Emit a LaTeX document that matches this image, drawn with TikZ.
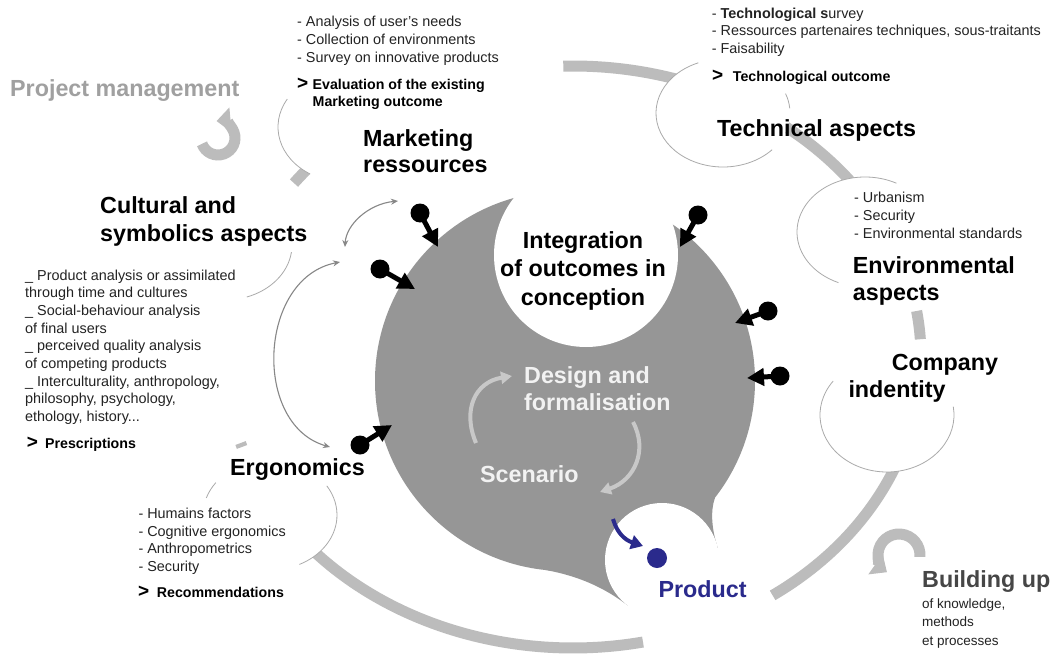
\documentclass[tikz,border=0pt]{standalone}
\usepackage{fontspec}
\setmainfont{Liberation Sans}
\usetikzlibrary{arrows.meta}
\definecolor{blob}{RGB}{150,150,150}
\definecolor{ringc}{RGB}{188,188,188}
\definecolor{thinc}{RGB}{170,170,170}
\definecolor{dblc}{RGB}{135,135,135}
\definecolor{innerc}{RGB}{200,200,200}
\definecolor{innertxt}{RGB}{242,242,242}
\definecolor{prodc}{RGB}{42,42,140}
\definecolor{pmc}{RGB}{160,160,160}
\definecolor{buc}{RGB}{70,70,70}
\definecolor{smalltxt}{RGB}{35,35,35}
\begin{document}
\begin{tikzpicture}[x=1pt,y=1pt,
  head/.style={font=\fontsize{23.3}{28.3}\selectfont\bfseries, inner sep=0pt, align=left, anchor=base west},
  small/.style={font=\fontsize{14.4}{17.8}\selectfont, inner sep=0pt, align=left, anchor=base west, text=smalltxt},
  smallb/.style={font=\fontsize{14.2}{17.4}\selectfont\bfseries, inner sep=0pt, align=left, anchor=base west},
  gtsign/.style={font=\fontsize{19}{19}\selectfont\bfseries, inner sep=0pt, anchor=base west},
  ringseg/.style={draw=ringc, line width=11pt},
  cutter/.style={fill=white},
  outline/.style={draw=thinc, line width=0.8pt},
  pinball/.style={circle, fill=black, inner sep=0pt, minimum size=19pt},
  pinarrow/.style={line width=5pt, -{Triangle[length=17pt,width=17pt]}},
  dblarrow/.style={draw=dblc, line width=1.1pt, {Stealth[length=7pt,width=6pt]}-{Stealth[length=7pt,width=6pt]}},
  innerarrow/.style={draw=innerc, line width=4pt, -{Triangle[length=11pt,width=12pt]}},
  bigturn/.style={draw=ringc, line width=11pt, -{Triangle[length=14pt,width=24pt]}},
  prodarrow/.style={draw=prodc, line width=4pt, -{Triangle[length=12pt,width=14pt]}},
  proddot/.style={circle, fill=prodc, inner sep=0pt, minimum size=20pt}
]
\fill[white] (0,0) rectangle (1053,-656);
\useasboundingbox (0,0) rectangle (1053,-656);

% ---- outer ring segments
\coordinate (rc) at (573,-357);
\draw[ringseg] (rc) ++(91.6:348pt and 291pt) arc[start angle=91.6,end angle=30,x radius=348pt,y radius=291pt];
\draw[ringseg] (rc) ++(9.1:348pt and 291pt) arc[start angle=9.1,end angle=3.5,x radius=348pt,y radius=291pt];
\draw[ringseg] (rc) ++(-10:348pt and 291pt) arc[start angle=-10,end angle=-55,x radius=348pt,y radius=291pt];
\draw[ringseg] (rc) ++(-140:348pt and 291pt) arc[start angle=-140,end angle=-78.4,x radius=348pt,y radius=291pt];
\draw[ringseg] (rc) ++(197.2:348pt and 291pt) arc[start angle=197.2,end angle=198,x radius=348pt,y radius=291pt];
\draw[ringseg] (rc) ++(137:348pt and 291pt) arc[start angle=137,end angle=143.3,x radius=348pt,y radius=291pt];

% ---- white ellipses of the aspects
\fill[cutter] (345,-127) ellipse[x radius=67pt,y radius=55pt];
\fill[cutter] (723,-113) ellipse[x radius=67pt,y radius=54pt];
\fill[cutter] (865,-232) ellipse[x radius=68pt,y radius=55pt];
\fill[cutter] (887,-415) ellipse[x radius=67pt,y radius=57pt];
\fill[cutter] (270,-515) ellipse[x radius=67pt,y radius=55pt];

% ---- visible outline arcs
\draw[outline] (345,-127) ++(149.5:67pt and 55pt) arc[start angle=149.5,end angle=238.6,x radius=67pt,y radius=55pt];
\draw[outline] (723,-113) ++(111.6:67pt and 54pt) arc[start angle=111.6,end angle=317.1,x radius=67pt,y radius=54pt];
\draw[outline] (723,-113) ++(5:67pt and 54pt) arc[start angle=5,end angle=21,x radius=67pt,y radius=54pt];
\draw[outline] (865,-232) ++(62.5:68pt and 55pt) arc[start angle=62.5,end angle=247,x radius=68pt,y radius=55pt];
\draw[outline] (887,-415) ++(143.5:67pt and 57pt) arc[start angle=143.5,end angle=368.4,x radius=67pt,y radius=57pt];
\draw[outline] (225,-245) ++(-71:67pt and 55pt) arc[start angle=-71,end angle=-7.5,x radius=67pt,y radius=55pt];
\draw[outline] (270,-515) ++(-64:67pt and 55pt) arc[start angle=-64,end angle=32,x radius=67pt,y radius=55pt];
\draw[outline] (270,-515) ++(144:67pt and 55pt) arc[start angle=144,end angle=162,x radius=67pt,y radius=55pt];

% ---- big turning arrows
\draw[bigturn] (218,-138) ++(200:17pt) arc[start angle=200,end angle=455,radius=17pt];
\draw[bigturn] (899,-555) ++(-5:21pt) arc[start angle=-5,end angle=235,radius=21pt];

% ---- central grey shape
\fill[blob] (565,-381) circle[radius=190pt];
\fill[blob] (545,-569.9) .. controls (585,-577) and (610,-592) .. (627.5,-605.3)
  -- (717.7,-547.9) .. controls (712,-530) and (710,-512) .. (715,-497.6) -- (565,-381) -- cycle;
\fill[white] (586,-255) circle[radius=92pt];
\fill[white] (662,-560) circle[radius=57pt];

% ---- arrows inside the grey shape
\coordinate (l1a) at (476,-443);
\coordinate (l1b) at (512,-376);
\draw[innerarrow] (l1a) .. controls (462,-410) and (475,-382) .. (l1b);
\coordinate (l2a) at (633,-422);
\coordinate (l2b) at (600,-492);
\draw[innerarrow] (l2a) .. controls (648,-450) and (635,-480) .. (l2b);

% ---- product
\node[proddot] (pdot) at (657,-558) {};
\coordinate (pa) at (613,-519);
\coordinate (pb) at (643,-546);
\draw[prodarrow] (pa) .. controls (617,-533) and (625,-540) .. (pb);

% ---- black pins
\node[pinball] (p1) at (420,-213) {};
\coordinate (p1t) at (438,-247);
\draw[pinarrow] (p1.center) -- (p1t);
\node[pinball] (p2) at (380,-269) {};
\coordinate (p2t) at (415,-289);
\draw[pinarrow] (p2.center) -- (p2t);
\node[pinball] (p3) at (698,-215) {};
\coordinate (p3t) at (680,-247);
\draw[pinarrow] (p3.center) -- (p3t);
\node[pinball] (p4) at (768,-311) {};
\coordinate (p4t) at (735,-323);
\draw[pinarrow] (p4.center) -- (p4t);
\node[pinball] (p5) at (780,-376) {};
\coordinate (p5t) at (747,-378);
\draw[pinarrow] (p5.center) -- (p5t);
\node[pinball] (p6) at (360,-445) {};
\coordinate (p6t) at (392,-425);
\draw[pinarrow] (p6.center) -- (p6t);

% ---- grey double arrows
\coordinate (d1a) at (345,-247);
\coordinate (d1b) at (398,-201);
\draw[dblarrow] (d1a) .. controls (346,-225) and (368,-204) .. (d1b);
\coordinate (d2a) at (340,-262);
\coordinate (d2b) at (330,-447);
\draw[dblarrow] (d2a) .. controls (258,-278) and (252,-425) .. (d2b);

% ---- texts (multi-line nodes are placed at the baseline of their last line)
\node[head, text=pmc] (pmtxt) at (10,-96) {Project management};

\node[small] (mkitems) at (297,-62.3) {- Analysis of user's needs\\- Collection of environments\\- Survey on innovative products};
\node[gtsign] (mkgt) at (297,-89.3) {>};
\node[smallb] (mkout) at (312.5,-106.7) {Evaluation of the existing\\Marketing outcome};
\node[head, font=\fontsize{23.3}{26.5}\selectfont\bfseries] (mkhead) at (363,-172.5) {Marketing\\ressources};

\node[small, font=\fontsize{14.4}{17.5}\selectfont] (tcitems) at (711.7,-53.3) {- \textbf{Technological s}urvey\\- Ressources partenaires techniques, sous-traitants\\- Faisability};
\node[gtsign] (tcgt) at (712,-81.7) {>};
\node[smallb] (tcout) at (732.7,-81.7) {Technological outcome};
\node[head] (tchead) at (717,-136.7) {Technical aspects};

\node[small] (envitems) at (854,-238.3) {- Urbanism\\- Security\\- Environmental standards};
\node[head, font=\fontsize{23.3}{26.7}\selectfont\bfseries] (envhead) at (852.7,-300) {Environmental\\aspects};

\node[head, font=\fontsize{23.3}{27.3}\selectfont\bfseries] (cohead) at (848.3,-397.3) {\hspace*{43.4pt}Company\\indentity};

\node[head] (cuhead) at (100,-241.6) {Cultural and\\symbolics aspects};
\node[small, font=\fontsize{14.4}{17.7}\selectfont] (cuitems) at (25,-421.6) {\_ Product analysis or assimilated\\through time and cultures\\\_ Social-behaviour analysis\\of final users\\\_ perceived quality analysis\\of competing products\\\_ Interculturality, anthropology,\\philosophy, psychology,\\ethology, history...};
\node[gtsign] (cugt) at (26.7,-448.3) {>};
\node[smallb] (cuout) at (45,-448.3) {Prescriptions};

\node[head] (erhead) at (230,-475) {Ergonomics};
\node[small] (eritems) at (138.3,-571.7) {- Humains factors\\- Cognitive ergonomics\\- Anthropometrics\\- Security};
\node[gtsign] (ergt) at (138,-597.3) {>};
\node[smallb] (erout) at (156.7,-597.3) {Recommendations};

\node[head, align=center, anchor=base, font=\fontsize{23.3}{28.5}\selectfont\bfseries] (integ) at (583,-305) {Integration\\of outcomes in\\conception};
\node[head, text=innertxt, font=\fontsize{23.3}{26.7}\selectfont\bfseries] (design) at (524,-410) {Design and\\formalisation};
\node[head, text=innertxt] (scen) at (480,-482.7) {Scenario};
\node[head, text=prodc] (prodtxt) at (658.3,-597.3) {Product};

\node[head, text=buc] (buhead) at (922,-587) {Building up};
\node[small, font=\fontsize{13.5}{18.5}\selectfont] (buitems) at (922,-645) {of knowledge,\\methods\\et processes};
\end{tikzpicture}
\end{document}
